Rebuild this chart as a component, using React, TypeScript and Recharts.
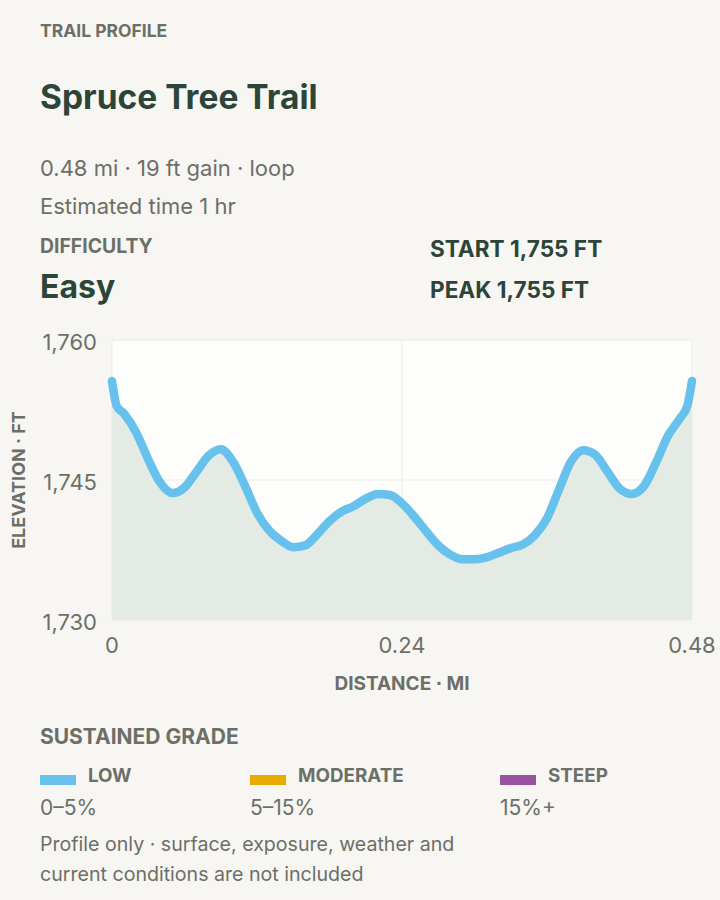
import React from 'react';
import {
    ComposedChart,
    Area,
    Line,
    XAxis,
    YAxis,
    CartesianGrid,
    Label,
} from 'recharts';

// distance along the trail (mi) and elevation (ft)
const distanceMi = [
    0, 0.004, 0.01, 0.02, 0.03, 0.04, 0.05, 0.06, 0.07, 0.08, 0.09, 0.1, 0.11, 0.12,
    0.13, 0.14, 0.15, 0.16, 0.17, 0.18, 0.19, 0.2, 0.21, 0.22, 0.23, 0.24, 0.25, 0.26,
    0.27, 0.28, 0.29, 0.3, 0.31, 0.32, 0.33, 0.34, 0.35, 0.36, 0.37, 0.38, 0.39, 0.4,
    0.41, 0.42, 0.43, 0.44, 0.45, 0.46, 0.47, 0.476, 0.48,
];
const elevationFt = [
    1755.6, 1752.9, 1752.1, 1750.1, 1747.2, 1744.7, 1743.6, 1744.2, 1745.9, 1747.6, 1748.3, 1747.0, 1744.4, 1741.5,
    1739.6, 1738.5, 1737.8, 1738.0, 1739.2, 1740.6, 1741.6, 1742.2, 1743.0, 1743.5, 1743.4, 1742.5, 1741.1, 1739.5,
    1738.0, 1737.0, 1736.5, 1736.5, 1736.7, 1737.2, 1737.7, 1738.1, 1739.1, 1740.9, 1744.0, 1747.0, 1748.2, 1747.7,
    1745.9, 1744.1, 1743.5, 1744.3, 1746.8, 1749.7, 1751.6, 1752.9, 1755.6,
];

const xTicks = [0, 0.24, 0.48];
const yTicks = [1730, 1745, 1760];

const gradeLabels = ['LOW', 'MODERATE', 'STEEP'];
const gradeRanges = ['0–5%', '5–15%', '15%+'];
const gradeColors = ['#66c1ec', '#e8ab00', '#9b52a0'];

const data = distanceMi.map((d, i) => ({ d, elev: elevationFt[i] }));

const DARK = '#2c4538';
const MUTED = '#6c6f68';
const FONT = 'Inter, "Noto Sans", sans-serif';

function Txt({ top, left, size, weight = 400, color = MUTED, children, lh = 1, width, ls }: any) {
    return (
        <div
            style={{
                position: 'absolute',
                top,
                left,
                width,
                fontSize: size,
                fontWeight: weight,
                color,
                lineHeight: lh,
                letterSpacing: ls,
                whiteSpace: width ? 'normal' : 'nowrap',
            }}
        >
            {children}
        </div>
    );
}

const fmtFt = (v: number) => v.toLocaleString('en-US');

export default function App() {
    const gradeLeft = [40, 250, 500];

    return (
        <div
            style={{
                position: 'absolute',
                left: 0,
                top: 0,
                width: 720,
                height: 900,
                background: '#f7f6f2',
                fontFamily: FONT,
                overflow: 'hidden',
            }}
        >
            <Txt top={22} left={40} size={17.5} weight={700}>TRAIL PROFILE</Txt>
            <Txt top={81} left={40} size={33.5} weight={700} color={DARK}>Spruce Tree Trail</Txt>
            <Txt top={157} left={40} size={22}>0.48 mi · 19 ft gain · loop</Txt>
            <Txt top={195} left={40} size={22}>Estimated time 1 hr</Txt>

            <Txt top={237} left={40} size={19.4} weight={700}>DIFFICULTY</Txt>
            <Txt top={271} left={40} size={32} weight={700} color={DARK}>Easy</Txt>
            <Txt top={238} left={430} size={22.6} weight={700} color={DARK}>START 1,755 FT</Txt>
            <Txt top={279} left={430} size={22.6} weight={700} color={DARK}>PEAK 1,755 FT</Txt>

            <div style={{ position: 'absolute', left: 0, top: 320 }}>
                <ComposedChart
                    width={720}
                    height={380}
                    data={data}
                    margin={{ top: 20, right: 28, left: 0, bottom: 5 }}
                >
                    <CartesianGrid stroke="#ebebe7" fill="#fdfdfb" />
                    <XAxis
                        dataKey="d"
                        type="number"
                        domain={[0, 0.48]}
                        ticks={xTicks}
                        axisLine={false}
                        tickLine={false}
                        tickSize={0}
                        tickMargin={17}
                        height={75}
                        tick={{ fill: MUTED, fontSize: 22, fontFamily: FONT }}
                    >
                        <Label
                            value="DISTANCE · MI"
                            position="insideBottom"
                            offset={5}
                            style={{ fill: MUTED, fontSize: 19, fontWeight: 700, fontFamily: FONT }}
                        />
                    </XAxis>
                    <YAxis
                        type="number"
                        domain={[1730, 1760]}
                        ticks={yTicks}
                        width={112}
                        axisLine={false}
                        tickLine={false}
                        tickSize={0}
                        tickMargin={15}
                        tickFormatter={fmtFt}
                        tick={{ fill: MUTED, fontSize: 22, fontFamily: FONT, dy: 2 }}
                    >
                        <Label
                            content={({ viewBox }: any) => {
                                const cy = viewBox.y + viewBox.height / 2;
                                return (
                                    <text
                                        x={18}
                                        y={cy}
                                        transform={`rotate(-90 18 ${cy})`}
                                        textAnchor="middle"
                                        dominantBaseline="central"
                                        fill={MUTED}
                                        fontSize={18}
                                        fontWeight={700}
                                        fontFamily={FONT}
                                    >
                                        ELEVATION · FT
                                    </text>
                                );
                            }}
                        />
                    </YAxis>
                    <Area
                        type="monotone"
                        dataKey="elev"
                        baseValue={1730}
                        stroke="none"
                        fill="#e4ebe4"
                        fillOpacity={1}
                        isAnimationActive={false}
                    />
                    <Line
                        type="monotone"
                        dataKey="elev"
                        stroke={gradeColors[0]}
                        strokeWidth={8.5}
                        strokeLinecap="round"
                        strokeLinejoin="round"
                        dot={false}
                        activeDot={false}
                        isAnimationActive={false}
                    />
                </ComposedChart>
            </div>

            <Txt top={726} left={40} size={21} weight={700}>SUSTAINED GRADE</Txt>
            {gradeLabels.map((g, i) => (
                <React.Fragment key={g}>
                    <div
                        style={{
                            position: 'absolute',
                            left: gradeLeft[i],
                            top: 775,
                            width: 36,
                            height: 10,
                            background: gradeColors[i],
                        }}
                    />
                    <Txt top={767} left={gradeLeft[i] + 48} size={18.8} weight={700}>{g}</Txt>
                    <Txt top={797} left={gradeLeft[i]} size={21}>{gradeRanges[i]}</Txt>
                </React.Fragment>
            ))}
            <Txt top={829} left={40} size={19.6} lh="30px" width={440}>
                Profile only · surface, exposure, weather and current conditions are not included
            </Txt>
        </div>
    );
}
